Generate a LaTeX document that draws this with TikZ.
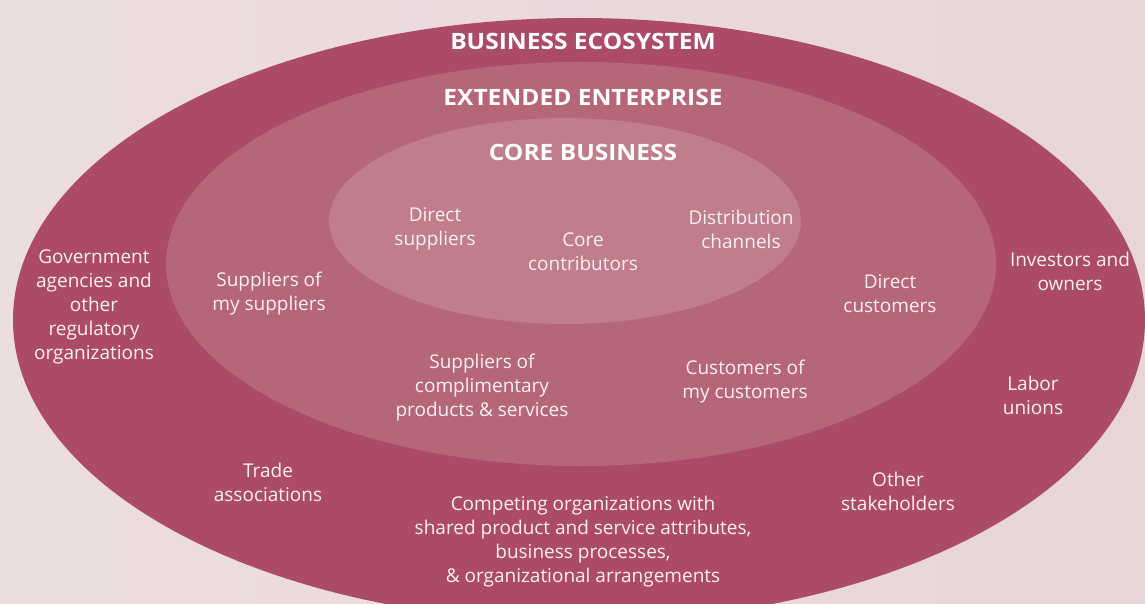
\documentclass[tikz,border=0pt]{standalone}
\usepackage{fontspec}
\setmainfont{Open Sans}
\newfontfamily\headfont[FakeStretch=1.09]{Open Sans}

\definecolor{ecoColor}{HTML}{AB4B67}
\definecolor{extColor}{HTML}{B56679}
\definecolor{coreColor}{HTML}{C07D8B}
\definecolor{bgLight}{HTML}{F3EAEA}
\definecolor{bgDark}{HTML}{E8D5D8}
\definecolor{txtColor}{HTML}{FBF0F2}

\tikzset{
    txt/.style={text=txtColor, align=center, inner sep=0pt,
        font=\fontsize{19}{24}\selectfont},
    ringtitle/.style={text=white, inner sep=0pt,
        font=\headfont\bfseries\fontsize{22.5}{26}\selectfont}
}

\begin{document}
\begin{tikzpicture}[x=1pt,y=-1pt]
        \useasboundingbox (0,0) rectangle (1145,604);
        \clip (0,0) rectangle (1145,604);
        \shade[left color=bgDark!60!bgLight, middle color=bgLight, right color=bgDark]
            (0,0) rectangle (1145,604);

        % rings
        \fill[ecoColor]  (579,320) ellipse [x radius=566pt, y radius=302pt];
        \fill[extColor]  (581,264) ellipse [x radius=415pt, y radius=202pt];
        \fill[coreColor] (565,221) ellipse [x radius=236pt, y radius=103pt];

        % titles
        \node[ringtitle] (eco)  at (583,41)  {BUSINESS ECOSYSTEM};
        \node[ringtitle] (ext)  at (583,97)  {EXTENDED ENTERPRISE};
        \node[ringtitle] (core) at (583,152) {CORE BUSINESS};

        % core business
        \node[txt] (dirsup)  at (435,229) {Direct\\suppliers};
        \node[txt] (corecon) at (583,252) {Core\\contributors};
        \node[txt] (distch)  at (741,229) {Distribution\\channels};

        % extended enterprise
        \node[txt] (supsup)   at (269,294) {Suppliers of\\my suppliers};
        \node[txt] (dircust)  at (890,294) {Direct\\customers};
        \node[txt] (supcomp)  at (482,388) {Suppliers of\\complimentary\\products \& services};
        \node[txt] (custcust) at (745,382) {Customers of\\my customers};

        % business ecosystem
        \node[txt] (gov)    at (94,307)   {Government\\agencies and\\other\\regulatory\\organizations};
        \node[txt] (invest) at (1070,271) {Investors and\\owners};
        \node[txt] (labor)  at (1033,395) {Labor\\unions};
        \node[txt] (trade)  at (268,482)  {Trade\\associations};
        \node[txt] (other)  at (898,491)  {Other\\stakeholders};
        \node[txt] (compet) at (583,542)  {Competing organizations with\\shared product and service attributes,\\business processes,\\\& organizational arrangements};

    \end{tikzpicture}
\end{document}
